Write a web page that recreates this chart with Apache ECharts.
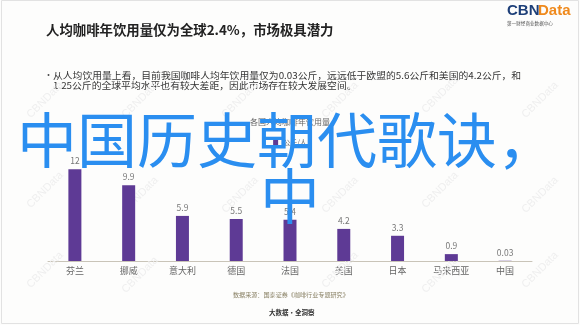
<!DOCTYPE html>
<html><head><meta charset="utf-8">
<script src="https://cdn.jsdelivr.net/npm/echarts@6/dist/echarts.min.js"></script>
<style>html,body{margin:0;padding:0;background:#fff}#c{width:580px;height:325px}</style>
</head><body><div id="c"></div>
<script>
const categories = ['芬兰','挪威','意大利','德国','法国','美国','日本','马来西亚','中国'];
const values = [12, 9.9, 5.9, 5.5, 5.4, 4.2, 3.3, 0.9, 0.03];
const labels = ['12','9.9','5.9','5.5','5.4','4.2','3.3','0.9','0.03'];
const seriesName = '公斤/人';

const F = '"Noto Sans CJK SC","Noto Sans",sans-serif';
const wm = [];
[[45,100],[140,100],[240,100],[340,100],[440,95],[540,100],[45,190],[140,195],[240,195],[340,195],[440,190],[540,195],[45,270],[140,275],[340,270],[440,275],[540,270]].forEach(([x,y]) => {
  wm.push({type:'text', x, y, rotation: Math.PI/4, z: 1, style:{text:'CBNData', fontSize: 11, fill:'#efefef', fontFamily:'"Liberation Sans",sans-serif', align:'center', verticalAlign:'middle'}});
});
const chart = echarts.init(document.getElementById('c'));
chart.setOption({
  backgroundColor: '#fdfdfc',
  animation: false,
  title: {
    text: '各国人均咖啡年饮用量', left: 'center', top: 113,
    textStyle: {fontSize: 8, color: '#666', fontWeight: 'normal', fontFamily: F}
  },
  legend: {
    data: [seriesName], top: 134, left: 'center', itemWidth: 5, itemHeight: 5, icon: 'rect',
    textStyle: {fontSize: 7, color: '#666', fontFamily: F}
  },
  grid: {left: 48, right: 48, top: 169.3, bottom: 64},
  xAxis: {
    type: 'category', data: categories,
    axisLine: {lineStyle: {color: '#c9c4b8', width: 1}},
    axisTick: {show: false},
    axisLabel: {fontSize: 9, color: '#666', margin: 5, fontFamily: F}
  },
  yAxis: {type: 'value', min: 0, max: 12, show: false, splitLine: {show: false}},
  series: [{
    name: seriesName, type: 'bar', data: values, barWidth: 13, z: 5,
    itemStyle: {color: '#5e3a95'},
    label: {show: true, position: 'top', fontSize: 8.5, color: '#777', distance: 4,
      fontFamily: F, formatter: p => labels[p.dataIndex]}
  }],
  graphic: wm.concat([
    {type: 'rect', shape: {x: 1.5, y: 0.5, width: 577, height: 323}, style: {fill: 'none', stroke: '#e2e2e2', lineWidth: 1}, z: 0},
    {type: 'text', left: 46, top: 23, style: {text: '人均咖啡年饮用量仅为全球2.4%，市场极具潜力', fontSize: 13.4, fontWeight: 'bold', fill: '#222', fontFamily: F}},
    {type: 'text', x: 44, y: 70, style: {text: '•', fontSize: 9, fill: '#555', fontFamily: F}},
    {type: 'text', x: 53, y: 70, scaleX: 1.09, style: {text: '从人均饮用量上看，目前我国咖啡人均年饮用量仅为0.03公斤，远远低于欧盟的5.6公斤和美国的4.2公斤，和\n1.25公斤的全球平均水平也有较大差距，因此市场存在较大发展空间。', fontSize: 9, lineHeight: 10.5, fill: '#333', fontFamily: F}},
    {type: 'text', x: 507, y: 3, style: {text: 'CBN', fontSize: 15, fontWeight: 'bold', fill: '#1d3f78', fontFamily: '"Liberation Sans",Arial,sans-serif'}},
    {type: 'text', x: 538, y: 3, style: {text: 'Data', fontSize: 15, fontWeight: 'bold', fill: '#ef8a1d', fontFamily: '"Liberation Sans",Arial,sans-serif'}},
    {type: 'text', x: 507, y: 20.5, style: {text: '第一财经商业数据中心', fontSize: 4.6, fill: '#555', fontFamily: F}},
    {type: 'text', x: 233, y: 291.5, style: {text: '数据来源：国泰证券《咖啡行业专题研究》', fontSize: 6.1, fill: '#8a8266', fontFamily: F}},
    {type: 'text', x: 269, y: 309.5, style: {text: '大数据·全洞察', fontSize: 6.5, fontWeight: 'bold', fill: '#333', fontFamily: F}},
    {type: 'text', x: 287, y: 140, z: 100, style: {text: '中国历史朝代歌诀，', fontSize: 60, fill: '#2a8ef0', fontFamily: F, align: 'center', verticalAlign: 'middle'}},
    {type: 'text', x: 290, y: 196, z: 100, style: {text: '中', fontSize: 60, fill: '#2a8ef0', fontFamily: F, align: 'center', verticalAlign: 'middle'}}
  ])
});
</script></body></html>
